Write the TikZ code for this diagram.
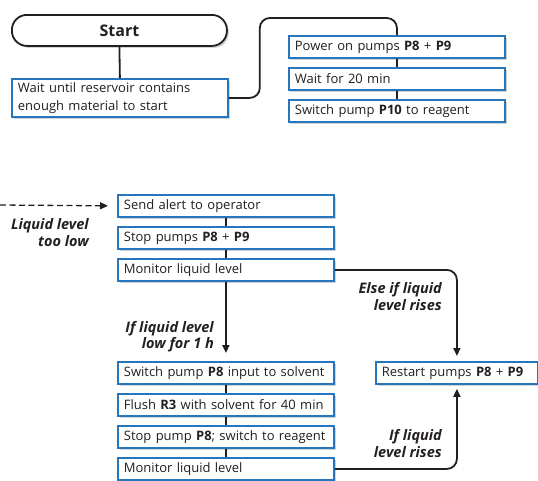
\documentclass[tikz,border=0pt]{standalone}
\usepackage{fontspec}
\setmainfont{Open Sans}
\usetikzlibrary{shadows,arrows.meta}
\definecolor{boxblue}{RGB}{38,118,190}
\definecolor{ink}{RGB}{35,31,32}
\tikzset{
 stepbox/.style={draw=boxblue, line width=1.8pt, fill=white, text=ink,
   drop shadow={shadow xshift=2pt,shadow yshift=-2pt,opacity=0.35},
   anchor=north west, minimum height=22pt, text width=204pt, inner xsep=6pt,
   inner ysep=0pt, align=left, font=\fontsize{13}{18.5}\selectfont},
 startbox/.style={draw=ink, line width=1.8pt, fill=white, rounded corners=15pt,
   drop shadow={shadow xshift=2pt,shadow yshift=-2pt,opacity=0.35},
   anchor=north west, minimum width=215pt, minimum height=31pt,
   font=\fontsize{16}{18}\selectfont\bfseries, text=ink},
 conn/.style={line width=1.8pt, draw=ink},
 arr/.style={conn, -{Triangle[length=8pt,width=7pt]}},
 lbl/.style={font=\fontsize{14.5}{16.5}\selectfont\bfseries\itshape, align=right,
   anchor=north east, inner sep=0pt, text=ink},
}
\begin{document}
\begin{tikzpicture}[x=1pt,y=-1pt]
\useasboundingbox (0,0) rectangle (538,480);
\node[startbox] (start) at (11,14) {Start};
\node[stepbox, minimum height=38pt] (wait) at (11,78) {Wait until reservoir contains\\enough material to start};
\node[stepbox] (power) at (288,35) {Power on pumps \textbf{P8} + \textbf{P9}};
\node[stepbox] (w20) at (288,67) {Wait for 20 min};
\node[stepbox] (p10) at (288,99) {Switch pump \textbf{P10} to reagent};

\node[stepbox] (alert) at (117,194) {Send alert to operator};
\node[stepbox] (stop) at (117,226) {Stop pumps \textbf{P8} + \textbf{P9}};
\node[stepbox] (mon1) at (117,258) {Monitor liquid level};

\node[stepbox] (sw) at (117,361) {Switch pump \textbf{P8} input to solvent};
\node[stepbox] (flush) at (117,393) {Flush \textbf{R3} with solvent for 40 min};
\node[stepbox] (stopp) at (117,425) {Stop pump \textbf{P8}; switch to reagent};
\node[stepbox] (mon2) at (117,457) {Monitor liquid level};

\node[stepbox, text width=150pt] (restart) at (375,361) {Restart pumps \textbf{P8} + \textbf{P9}};

\node[lbl] (l1) at (89,218.5) {Liquid level\\too low};
\node[lbl] (l2) at (214,321) {If liquid level\\low for 1 h};
\node[lbl] (l3) at (442,282.5) {Else if liquid\\level rises};
\node[lbl] (l4) at (442,429.5) {If liquid\\level rises};

\draw[conn] (start.south) -- (wait.north);
\draw[conn, rounded corners=10pt] (wait.east) -- ++(31,0) |- ([yshift=17pt]power.north) -- (power.north);
\draw[conn] (power.south) -- (w20.north);
\draw[conn] (w20.south) -- (p10.north);

\coordinate (dstart) at (0,205);
\draw[arr, dash pattern=on 6pt off 3.5pt, line width=1.3pt, shorten >=9pt] (dstart) -- (alert.west);
\draw[conn] (alert.south) -- (stop.north);
\draw[conn] (stop.south) -- (mon1.north);
\draw[arr, shorten >=8pt] (mon1.south) -- (sw.north);
\draw[conn] (sw.south) -- (flush.north);
\draw[conn] (flush.south) -- (stopp.north);
\draw[conn] (stopp.south) -- (mon2.north);

\draw[arr, rounded corners=10pt, shorten >=5pt] (mon1.east) -| (restart.north);
\draw[arr, rounded corners=10pt, shorten >=4pt] (mon2.east) -| (restart.south);
\end{tikzpicture}
\end{document}
